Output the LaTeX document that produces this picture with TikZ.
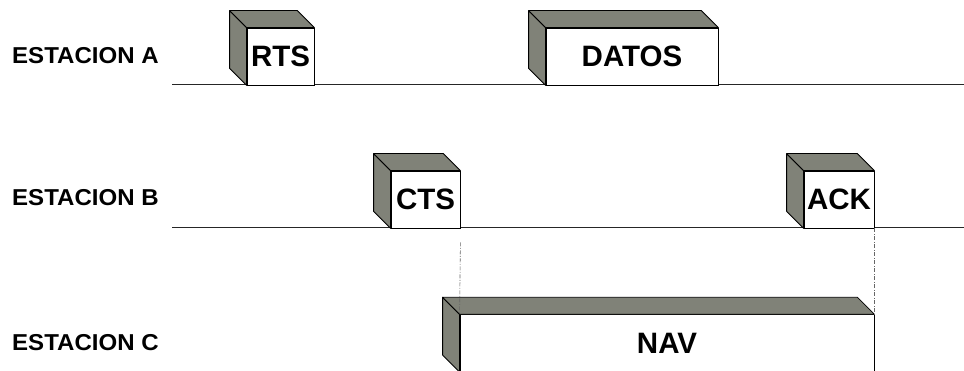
\documentclass[tikz,border=0pt]{standalone}
\usepackage{fontspec}
\setmainfont{Liberation Sans}
\newfontfamily\lblfont[FakeStretch=1.045]{Liberation Sans}
\usetikzlibrary{calc}
\begin{document}
\begin{tikzpicture}[x=1pt,y=-1pt,
  lbl/.style={anchor=west,inner sep=0pt,font=\lblfont\fontsize{23}{26}\selectfont\bfseries},
  front/.style={draw=black,line width=0.8pt,fill=white,inner sep=0pt,minimum height=57pt,
                font=\fontsize{29.5}{32}\selectfont\bfseries},
  face/.style={fill=facegray,draw=black,line width=0.8pt,line join=round},
  timeline/.style={draw=black!85,line width=1pt},
  guide/.style={draw=black!60,line width=0.6pt,dash pattern=on 4pt off 1.5pt on 1pt off 1.5pt}]
\definecolor{facegray}{RGB}{128,130,120}
\useasboundingbox (0,0) rectangle (964,371);
\clip (0,0) rectangle (964,371);
% station labels
\node[lbl] (la) at (12,55.5) {ESTACION A};
\node[lbl] (lb) at (12,197.5) {ESTACION B};
\node[lbl] (lc) at (12,343) {ESTACION C};
% time lines
\coordinate (a0) at (172,85);
\coordinate (a1) at (964,85);
\coordinate (b0) at (172,228);
\coordinate (b1) at (964,228);
\draw[timeline] (a0) -- (a1);
\draw[timeline] (b0) -- (b1);
% frames
\newcommand{\boxthreed}[4]{% name, center, width, text
  \node[front,minimum width=#3pt] (#1) at #2 {#4};
  \filldraw[face] (#1.north west) -- ++(-17,-17) -- ($(#1.south west)+(-17,-17)$) -- (#1.south west) -- cycle;
  \filldraw[face] (#1.north west) -- ++(-17,-17) -- ($(#1.north east)+(-17,-17)$) -- (#1.north east) -- cycle;
}
\boxthreed{rts}{(280.5,56.5)}{67}{RTS}
\boxthreed{datos}{(632,56.5)}{172}{DATOS}
\boxthreed{cts}{(425.5,199.5)}{69}{CTS}
\boxthreed{ack}{(839,199.5)}{70}{ACK}
\boxthreed{nav}{(667,343.2)}{414}{NAV}
% guide lines
\draw[guide] (cts.south east) ++(0,14) -- (nav.north west);
\draw[guide] (ack.south east) -- (nav.north east);
\end{tikzpicture}
\end{document}
